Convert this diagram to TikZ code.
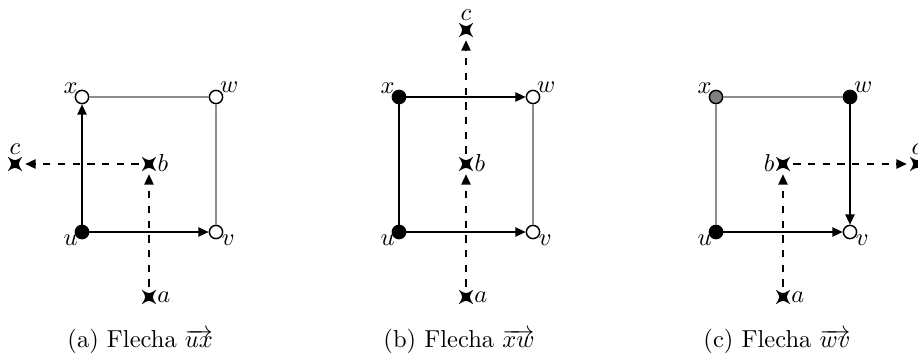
\documentclass[tikz,border=0pt]{standalone}
\usetikzlibrary{arrows.meta}
\begin{document}
\begin{tikzpicture}[x=0.408pt,y=-0.408pt,
  vtx/.style={circle,draw=black,line width=0.6pt,inner sep=0pt,minimum size=5.4pt},
  vblack/.style={vtx,fill=black},
  vwhite/.style={vtx,fill=white},
  vgray/.style={vtx,fill=black!50},
  mk/.style={circle,inner sep=0pt,minimum size=8pt,
    path picture={\fill[shift={(path picture bounding box.center)}]
      (3pt,3pt) .. controls (1.1pt,0pt) .. (3pt,-3pt)
      .. controls (0pt,-1.1pt) .. (-3pt,-3pt)
      .. controls (-1.1pt,0pt) .. (-3pt,3pt)
      .. controls (0pt,1.1pt) .. cycle;}},
  arr/.style={line width=0.6pt,-{Triangle[length=4.2pt,width=3.8pt]}},
  sol/.style={line width=0.6pt},
  faint/.style={line width=0.45pt,draw=black!45},
  dsh/.style={line width=0.55pt,dashed,-{Triangle[length=4.2pt,width=3.8pt]}},
  lbl/.style={inner sep=0pt},
  captxt/.style={anchor=base west,inner sep=0pt}
]
\useasboundingbox (0,0) rectangle (918,358);
\clip (0,0) rectangle (918,358);

% ---------- (a)
\begin{scope}[shift={(82,0)}]
\node[vblack] (ua) at (0,232) {};
\node[vwhite] (va) at (134,232) {};
\node[vwhite] (xa) at (0,97) {};
\node[vwhite] (wa) at (134,97) {};
\node[mk] (aa) at (67,297) {};
\node[mk] (ba) at (67,164) {};
\node[mk] (ca) at (-67,164) {};
\draw[faint] (xa) -- (wa);
\draw[faint] (wa) -- (va);
\draw[arr] (ua) -- (xa);
\draw[arr] (ua) -- (va);
\draw[dsh] (aa) -- (ba);
\draw[dsh] (ba) -- (ca);
\node[lbl] (lua) at ([shift={(-4.6pt,-3.3pt)}]ua) {$u$};
\node[lbl] (lva) at ([shift={(5pt,-3.3pt)}]va) {$v$};
\node[lbl] (lxa) at ([shift={(-4.6pt,3.7pt)}]xa) {$x$};
\node[lbl] (lwa) at ([shift={(5.4pt,4.1pt)}]wa) {$w$};
\node[lbl] (laa) at ([shift={(6.1pt,0pt)}]aa) {$a$};
\node[lbl] (lba) at ([shift={(5.7pt,0.4pt)}]ba) {$b$};
\node[lbl] (lca) at ([shift={(0pt,5.9pt)}]ca) {$c$};
\node[captxt] (capa) at (-15,347) {(a) Flecha $\overrightarrow{ux}$};
\end{scope}

% ---------- (b)
\begin{scope}[shift={(399,0)}]
\node[vblack] (ub) at (0,232) {};
\node[vwhite] (vb) at (134,232) {};
\node[vblack] (xb) at (0,97) {};
\node[vwhite] (wb) at (134,97) {};
\node[mk] (ab) at (67,297) {};
\node[mk] (bb) at (67,164) {};
\node[mk] (cb) at (67,30) {};
\draw[sol] (ub) -- (xb);
\draw[faint] (wb) -- (vb);
\draw[arr] (xb) -- (wb);
\draw[arr] (ub) -- (vb);
\draw[dsh] (ab) -- (bb);
\draw[dsh] (bb) -- (cb);
\node[lbl] (lub) at ([shift={(-4.6pt,-3.3pt)}]ub) {$u$};
\node[lbl] (lvb) at ([shift={(5pt,-3.3pt)}]vb) {$v$};
\node[lbl] (lxb) at ([shift={(-4.6pt,3.7pt)}]xb) {$x$};
\node[lbl] (lwb) at ([shift={(5.4pt,4.1pt)}]wb) {$w$};
\node[lbl] (lab2) at ([shift={(6.1pt,0pt)}]ab) {$a$};
\node[lbl] (lbb) at ([shift={(5.7pt,0.4pt)}]bb) {$b$};
\node[lbl] (lcb) at ([shift={(0pt,5.9pt)}]cb) {$c$};
\node[captxt] (capb) at (-16,347) {(b) Flecha $\overrightarrow{xw}$};
\end{scope}

% ---------- (c)
\begin{scope}[shift={(716,0)}]
\node[vblack] (uc) at (0,232) {};
\node[vwhite] (vc) at (134,232) {};
\node[vgray] (xc) at (0,97) {};
\node[vblack] (wc) at (134,97) {};
\node[mk] (ac) at (67,297) {};
\node[mk] (bc) at (67,164) {};
\node[mk] (cc) at (201,164) {};
\draw[faint] (xc) -- (wc);
\draw[faint] (xc) -- (uc);
\draw[arr] (wc) -- (vc);
\draw[arr] (uc) -- (vc);
\draw[dsh] (ac) -- (bc);
\draw[dsh] (bc) -- (cc);
\node[lbl] (luc) at ([shift={(-4.6pt,-3.3pt)}]uc) {$u$};
\node[lbl] (lvc) at ([shift={(5pt,-3.3pt)}]vc) {$v$};
\node[lbl] (lxc) at ([shift={(-4.6pt,3.7pt)}]xc) {$x$};
\node[lbl] (lwc) at ([shift={(5.4pt,4.1pt)}]wc) {$w$};
\node[lbl] (lac) at ([shift={(6.1pt,0pt)}]ac) {$a$};
\node[lbl] (lbc) at ([shift={(-5.7pt,0.4pt)}]bc) {$b$};
\node[lbl] (lcc) at ([shift={(0pt,5.9pt)}]cc) {$c$};
\node[captxt] (capc) at (-13,347) {(c) Flecha $\overrightarrow{wv}$};
\end{scope}
\end{tikzpicture}
\end{document}
